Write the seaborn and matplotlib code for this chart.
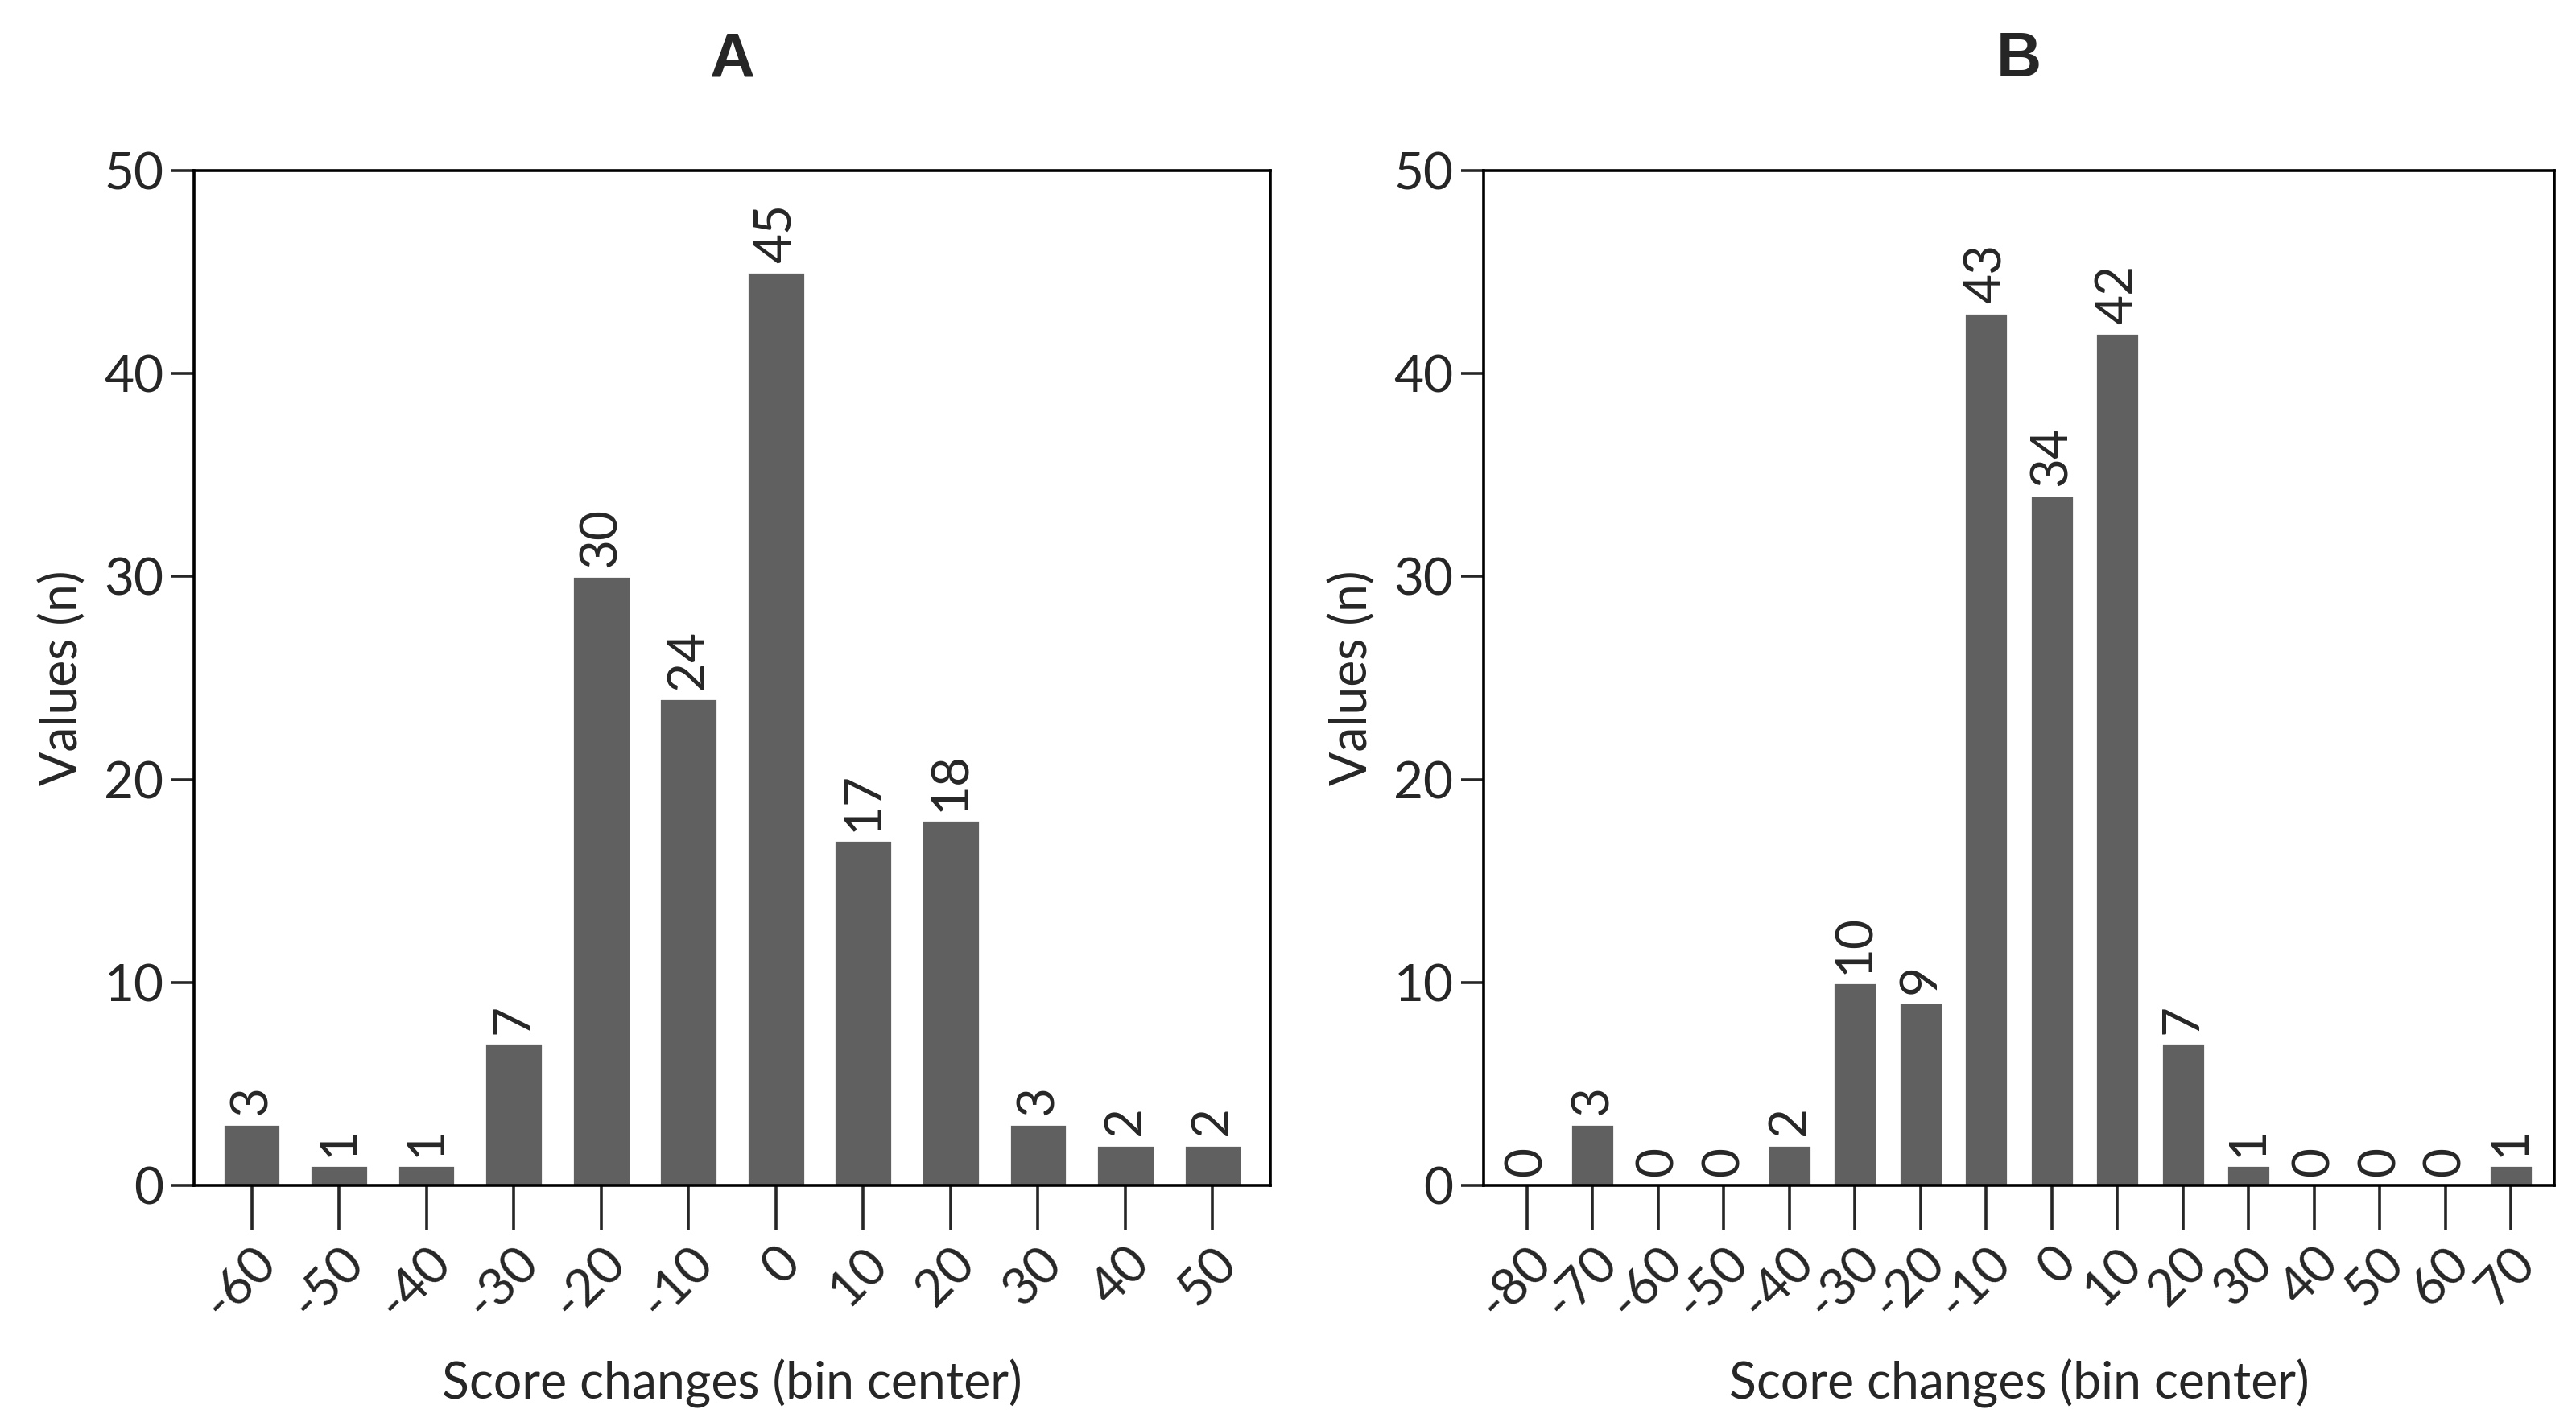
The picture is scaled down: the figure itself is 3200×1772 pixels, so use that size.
import matplotlib
matplotlib.use("Agg")
import matplotlib.pyplot as plt
import seaborn as sns
import pandas as pd

# panel A
bins_a = [-60, -50, -40, -30, -20, -10, 0, 10, 20, 30, 40, 50]
counts_a = [3, 1, 1, 7, 30, 24, 45, 17, 18, 3, 2, 2]

# panel B
bins_b = [-80, -70, -60, -50, -40, -30, -20, -10, 0, 10, 20, 30, 40, 50, 60, 70]
counts_b = [0, 3, 0, 0, 2, 10, 9, 43, 34, 42, 7, 1, 0, 0, 0, 1]

titles = ["A", "B"]

sns.set_style("ticks")
plt.rcParams['font.family'] = ['Lato', 'DejaVu Sans']

fig = plt.figure(figsize=(16, 8.86), dpi=200)
ax_a = fig.add_axes([241 / 3200, 1 - 1473 / 1772, 1337 / 3200, 1261 / 1772])
ax_b = fig.add_axes([1843 / 3200, 1 - 1473 / 1772, 1330 / 3200, 1261 / 1772])

for ax, bins, counts, title in zip([ax_a, ax_b], [bins_a, bins_b], [counts_a, counts_b], titles):
    df = pd.DataFrame({'bin': [str(b) for b in bins], 'n': counts})
    sns.barplot(data=df, x='bin', y='n', color='#606060', width=0.66,
                saturation=1, ax=ax)
    ax.bar_label(ax.containers[0], rotation=90, padding=4, fontsize=23)

    ax.set_ylim(0, 50)
    ax.set_yticks(range(0, 51, 10))
    ax.set_xlim(-0.66, len(bins) - 0.34)
    ax.set_xlabel('Score changes (bin center)', fontsize=22.5, labelpad=14)
    ax.set_ylabel('Values (n)', fontsize=22.5, labelpad=8)
    ax.tick_params(axis='y', labelsize=23, length=10, width=1.3, direction='out')
    ax.tick_params(axis='x', labelsize=23, length=20, width=1.3, direction='out', pad=4)
    for lbl in ax.get_xticklabels():
        lbl.set_rotation(45)
        lbl.set_ha('right')
        lbl.set_rotation_mode('anchor')
    for side in ['top', 'right', 'left', 'bottom']:
        ax.spines[side].set_visible(True)
        ax.spines[side].set_linewidth(1.3)
        ax.spines[side].set_color('black')
    ax.set_title(title, fontsize=28, fontweight='bold', family=['Liberation Sans', 'DejaVu Sans'], pad=42)

fig.savefig('out.png', dpi=200)
